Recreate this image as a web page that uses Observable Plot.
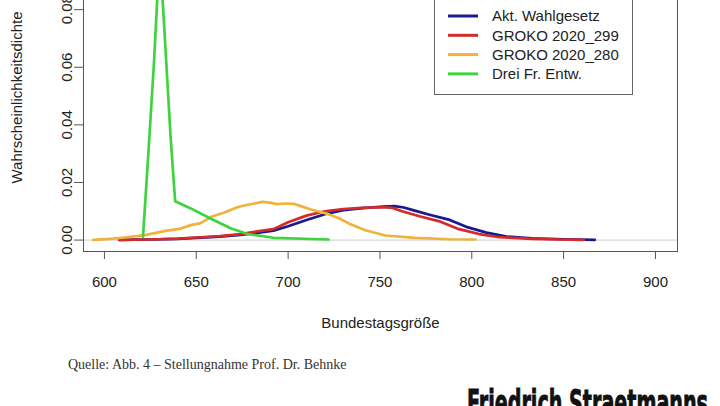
<!DOCTYPE html>
<html>
<head>
<meta charset="utf-8">
<script src="https://cdn.jsdelivr.net/npm/d3@7"></script>
<script src="https://cdn.jsdelivr.net/npm/@observablehq/plot@0.6"></script>
<style>
  html, body { margin: 0; padding: 0; background: #fff; }
  #wrap { position: relative; width: 720px; height: 406px; overflow: hidden; background: #fff; }
  #chart { position: absolute; left: 0; top: -70px; }
  #legend { position: absolute; left: 434px; top: -30px; width: 197px; height: 123px; border: 1px solid #666; background: #fff; }
  #quelle { position: absolute; left: 68px; top: 357px; font-family: "Liberation Serif", serif; font-size: 14px; color: #333; white-space: nowrap; }
  #brand { position: absolute; left: 0; top: 0; }
</style>
</head>
<body>
<div id="wrap">
  <div id="chart"></div>
  <div id="legend"></div>
  <div id="quelle">Quelle: Abb. 4 – Stellungnahme Prof. Dr. Behnke</div>
  <svg id="brand" width="720" height="406"><text x="467" y="415" textLength="241" lengthAdjust="spacingAndGlyphs" font-family="DejaVu Sans Condensed, DejaVu Sans" font-weight="bold" font-size="36" fill="#111" stroke="#111" stroke-width="0.9">Friedrich Straetmanns</text></svg>
</div>
<script>
// Series names and colours
const seriesNames = ["Akt. Wahlgesetz", "GROKO 2020_299", "GROKO 2020_280", "Drei Fr. Entw."];
const seriesColors = ["#1a1a8f", "#d42a2a", "#f0b23a", "#3ed43e"];

// Akt. Wahlgesetz (blue)
const aktX = [608, 625, 640, 650, 663, 674, 685, 692, 700, 710, 720, 730, 742, 752, 758, 763, 768, 777, 788, 797, 808, 819, 833, 850, 867];
const aktY = [0.0001, 0.0002, 0.0004, 0.0008, 0.0012, 0.0018, 0.0027, 0.0033, 0.0048, 0.0070, 0.0090, 0.0104, 0.0112, 0.0116, 0.0118, 0.0113, 0.0104, 0.0088, 0.0070, 0.0046, 0.0026, 0.0012, 0.0006, 0.0003, 0.0001];

// GROKO 2020_299 (red)
const g299X = [608, 625, 640, 650, 663, 674, 685, 692, 700, 710, 720, 730, 740, 750, 756, 762, 772, 783, 793, 804, 815, 833, 848, 861];
const g299Y = [0.0001, 0.0002, 0.0005, 0.0009, 0.0014, 0.0021, 0.0032, 0.0038, 0.0062, 0.0085, 0.0100, 0.0108, 0.0112, 0.0114, 0.0113, 0.0100, 0.0082, 0.0064, 0.0038, 0.0021, 0.0010, 0.0004, 0.0002, 0.0001];

// GROKO 2020_280 (orange)
const g280X = [594, 605, 611, 622, 634, 641, 647, 652, 659, 665, 672, 676, 681, 686, 690, 694, 699, 703, 707, 712, 721, 728, 733, 742, 753, 769, 788, 802];
const g280Y = [0.0001, 0.0005, 0.0009, 0.0017, 0.0033, 0.0039, 0.0052, 0.0058, 0.0083, 0.0095, 0.0113, 0.0120, 0.0126, 0.0133, 0.0130, 0.0125, 0.0127, 0.0126, 0.0118, 0.0107, 0.0092, 0.0075, 0.0058, 0.0034, 0.0016, 0.0008, 0.0003, 0.0002];

// Drei Fr. Entw. (green)
const dreiX = [621, 624, 627, 630, 632, 634, 636, 638.5, 647, 658, 669, 678, 692, 722];
const dreiY = [0.0012, 0.031, 0.062, 0.099, 0.080, 0.058, 0.036, 0.0135, 0.0110, 0.0074, 0.0040, 0.0021, 0.0008, 0.0002];

// Ticks
const xTicks = [600, 650, 700, 750, 800, 850, 900];
const yTicks = [0, 0.02, 0.04, 0.06, 0.08, 0.10];

const seriesX = [aktX, g299X, g280X, dreiX];
const seriesY = [aktY, g299Y, g280Y, dreiY];
const rows = [];
seriesNames.forEach((name, i) => {
  seriesX[i].forEach((x, j) => rows.push({series: name, x, y: seriesY[i][j]}));
});

const chart = Plot.plot({
  width: 720,
  height: 421,
  marginLeft: 83,
  marginRight: 43,
  marginTop: 13,
  marginBottom: 100,
  style: {fontFamily: "Liberation Sans, Arial, sans-serif", fontSize: "15px", color: "#222", background: "transparent"},
  x: {domain: [588.6, 912]},
  y: {domain: [-0.00396, 0.10296]},
  color: {domain: seriesNames, range: seriesColors},
  marks: [
    Plot.ruleY([0], {stroke: "#cfcfcf", strokeWidth: 1}),
    Plot.line(rows, {x: "x", y: "y", z: "series", stroke: "series", strokeWidth: 2.7}),
    Plot.frame({stroke: "#555"}),
    Plot.axisX({ticks: xTicks, tickSize: 8, tickFormat: () => "", label: null, stroke: "#555"}),
    Plot.axisY({ticks: yTicks, tickSize: 9, tickFormat: () => "", label: null, stroke: "#555"}),
    Plot.text(xTicks, {x: d => d, frameAnchor: "bottom", dy: 31, lineAnchor: "middle", textAnchor: "middle", text: d => String(d), fill: "#222"}),
    Plot.text(yTicks, {y: d => d, frameAnchor: "left", dx: -16, rotate: -90, lineAnchor: "middle", textAnchor: "middle", text: d => d3.format(".2f")(d), fill: "#222"}),
    Plot.text(["Bundestagsgröße"], {frameAnchor: "bottom", dy: 72, lineAnchor: "middle", textAnchor: "middle", text: d => d, fill: "#222"}),
    Plot.text(["Wahrscheinlichkeitsdichte"], {frameAnchor: "left", dx: -66, rotate: -90, lineAnchor: "middle", textAnchor: "middle", text: d => d, fill: "#222"})
  ]
});
document.getElementById("chart").appendChild(chart);

// Legend (HTML overlay)
const legend = d3.select("#legend");
const lsvg = legend.append("svg").attr("width", 197).attr("height", 123);
seriesNames.forEach((name, i) => {
  const cy = 45 + i * 19.3;
  lsvg.append("line").attr("x1", 13).attr("x2", 43).attr("y1", cy).attr("y2", cy)
    .attr("stroke", seriesColors[i]).attr("stroke-width", 3);
  lsvg.append("text").attr("x", 57).attr("y", cy).attr("dy", "0.35em")
    .attr("font-family", "Liberation Sans, Arial, sans-serif").attr("font-size", 15)
    .attr("fill", "#222").text(name);
});
</script>
</body>
</html>
